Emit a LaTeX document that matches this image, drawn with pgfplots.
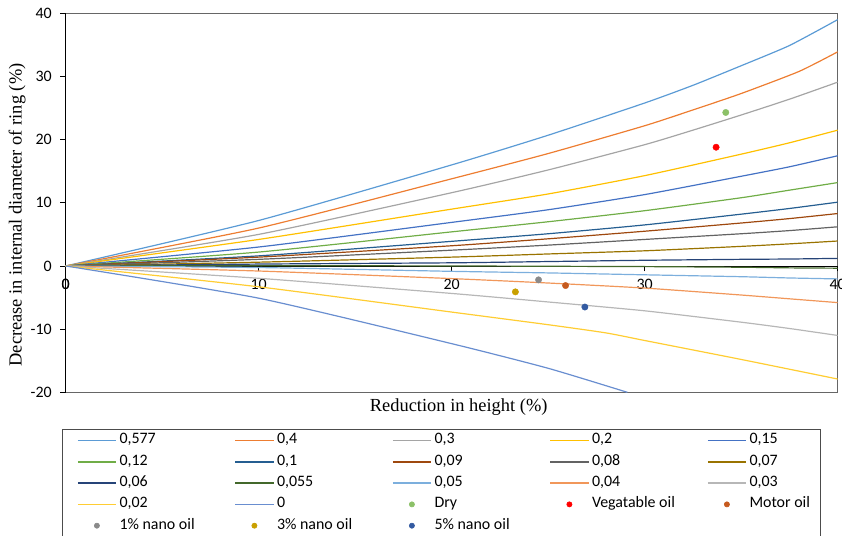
\documentclass[border=0pt]{standalone}
\usepackage{fontspec}
\setmainfont{Liberation Serif}
\newfontfamily\calib{Carlito}
\usepackage{pgfplots}
\pgfplotsset{compat=1.18}
\definecolor{cA}{HTML}{5B9BD5}
\definecolor{cB}{HTML}{ED7D31}
\definecolor{cC}{HTML}{A5A5A5}
\definecolor{cD}{HTML}{FFC000}
\definecolor{cE}{HTML}{4472C4}
\definecolor{cF}{HTML}{70AD47}
\definecolor{cG}{HTML}{255E91}
\definecolor{cH}{HTML}{9E480E}
\definecolor{cI}{HTML}{636363}
\definecolor{cJ}{HTML}{997300}
\definecolor{cK}{HTML}{264478}
\definecolor{cL}{HTML}{43682B}
\definecolor{cM}{HTML}{7CAFDD}
\definecolor{cN}{HTML}{F1975A}
\definecolor{cO}{HTML}{B7B7B7}
\definecolor{cP}{HTML}{FFCD33}
\definecolor{cQ}{HTML}{698ED0}
\definecolor{cDry}{HTML}{8CC168}
\definecolor{cVeg}{HTML}{FF0000}
\definecolor{cMot}{HTML}{C65A1E}
\definecolor{cN1}{HTML}{8A8A8A}
\definecolor{cN3}{HTML}{C9A000}
\definecolor{cN5}{HTML}{335AA1}
\newcommand\LA[1]{\makebox[115bp][l]{#1}}
\newcommand\LB[1]{\makebox[56bp][l]{#1}}
\pgfplotsset{
  curve/.style={line width=1.2bp, smooth, tension=0.35, no markers},
  dots/.style={only marks, mark=*, mark size=3.2bp, color=#1, mark options={fill=#1, draw=#1},
    legend image code/.code={\path[draw=none, fill=none] (0bp,0bp) -- (38.3bp,0bp); \draw[##1, draw=none, mark size=2.6bp] plot coordinates {(19.15bp,0bp)};}},
}
\begin{document}
\begin{tikzpicture}
\path[use as bounding box] (0,0) rectangle (842bp,536bp);
\begin{axis}[
  at={(65.7bp,143.7bp)}, anchor=south west,
  scale only axis, width=772bp, height=379bp,
  xmin=0, xmax=40, ymin=-20, ymax=40,
  axis x line=middle, axis y line=left,
  hide obscured x ticks=false,
  axis line style={-, black, line width=0.8bp},
  axis background/.style={draw=black!60, line width=0.8bp},
  xtick={0,10,20,30,40}, ytick={-20,-10,0,10,20,30,40},
  extra x ticks={0}, extra x tick style={tick style={draw=none}},
  tick align=outside, major tick length=5.5bp,
  tick style={black, line width=0.6bp},
  /pgf/number format/assume math mode=true,
  ticklabel style={font=\calib\fontsize{16}{18}\selectfont},
  xticklabel style={yshift=-4.5bp},
  yticklabel style={xshift=-5bp},
  label style={font=\fontsize{18.5}{21}\selectfont},
  xlabel={Reduction in height (\%)},
  ylabel={Decrease in internal diameter of ring (\%)},
  xlabel style={at={(axis description cs:0.5,0)}, anchor=north, yshift=-2.5bp, xshift=7bp},
  ylabel style={at={(axis description cs:-0.063,0.468)}, anchor=center},
  legend columns=5,
  legend style={at={(axis description cs:-0.0044,-0.096)}, anchor=north west,
    draw=black!70, line width=0.6bp,
    font=\calib\fontsize{16}{18}\selectfont,
    inner xsep=14.4bp, inner ysep=4bp, row sep=6.3bp,
    nodes={inner sep=0pt, text height=11bp, text depth=4bp},
    /tikz/every odd column/.append style={column sep=2.7bp}},
  legend image code/.code={\draw[#1, line width=1.5bp] (0bp,0bp) -- (38.3bp,0bp);},
]
\addplot[curve, color=cA] coordinates {(0,0) (10,7.2) (20,16.0) (25,20.7) (30,25.8) (32.5,28.6) (35,31.7) (37.5,34.9) (40,39.0)};
\addlegendentry{\LA{0,577}}
\addplot[curve, color=cB] coordinates {(0,0) (10,6.0) (20,13.8) (25,17.8) (30,22.2) (32.5,24.7) (35,27.3) (38,30.8) (40,33.9)};
\addlegendentry{\LA{0,4}}
\addplot[curve, color=cC] coordinates {(0,0) (10,5.0) (20,11.6) (25,15.2) (30,19.2) (32.5,21.5) (35,23.9) (37.5,26.4) (40,29.1)};
\addlegendentry{\LA{0,3}}
\addplot[curve, color=cD] coordinates {(0,0) (10,4.2) (20,9.0) (25,11.4) (30,14.3) (35,17.7) (37.5,19.5) (40,21.5)};
\addlegendentry{\LA{0,2}}
\addplot[curve, color=cE] coordinates {(0,0) (10,3.0) (20,6.9) (25,8.9) (30,11.3) (35,14.2) (37.5,15.7) (40,17.45)};
\addlegendentry{\LB{0,15}}
\addplot[curve, color=cF] coordinates {(0,0) (10,2.2) (20,5.4) (25,7.0) (30,8.75) (35,10.8) (37.5,12.0) (40,13.2)};
\addlegendentry{\LA{0,12}}
\addplot[curve, color=cG] coordinates {(0,0) (10,1.6) (20,3.9) (25,5.1) (30,6.5) (35,8.2) (37.5,9.1) (40,10.1)};
\addlegendentry{\LA{0,1}}
\addplot[curve, color=cH] coordinates {(0,0) (10,1.4) (20,3.2) (25,4.3) (30,5.5) (35,6.8) (37.5,7.5) (40,8.3)};
\addlegendentry{\LA{0,09}}
\addplot[curve, color=cI] coordinates {(0,0) (10,1.05) (20,2.5) (25,3.3) (30,4.2) (35,5.1) (37.5,5.6) (40,6.2)};
\addlegendentry{\LA{0,08}}
\addplot[curve, color=cJ] coordinates {(0,0) (10,0.6) (20,1.4) (25,1.9) (30,2.4) (35,3.1) (37.5,3.5) (40,3.95)};
\addlegendentry{\LB{0,07}}
\addplot[curve, color=cK] coordinates {(0,0) (10,0.3) (20,0.5) (25,0.7) (30,0.9) (35,1.05) (37.5,1.1) (40,1.2)};
\addlegendentry{\LA{0,06}}
\addplot[curve, color=cL] coordinates {(0,0) (10,0.05) (20,0) (25,-0.05) (30,-0.1) (35,-0.2) (37.5,-0.3) (40,-0.35)};
\addlegendentry{\LA{0,055}}
\addplot[curve, color=cM] coordinates {(0,0) (10,-0.25) (20,-0.85) (25,-1.1) (30,-1.4) (35,-1.7) (37.5,-1.9) (40,-2.05)};
\addlegendentry{\LA{0,05}}
\addplot[curve, color=cN] coordinates {(0,0) (10,-0.8) (20,-2.0) (25,-2.7) (30,-3.5) (35,-4.6) (37.5,-5.2) (40,-5.8)};
\addlegendentry{\LA{0,04}}
\addplot[curve, color=cO] coordinates {(0,0) (10,-1.95) (20,-4.35) (25,-5.7) (30,-7.1) (35,-8.9) (37.5,-9.9) (40,-11.0)};
\addlegendentry{\LB{0,03}}
\addplot[curve, color=cP] coordinates {(0,0) (10,-3.3) (20,-7.3) (25,-9.3) (28,-10.6) (30,-11.8) (35,-14.8) (40,-17.9)};
\addlegendentry{\LA{0,02}}
\addplot[curve, color=cQ] coordinates {(0,0) (10,-5.1) (20,-12.3) (25,-16.2) (29.1,-20)};
\addlegendentry{\LA{0}}
\addplot[dots=cDry] coordinates {(34.2,24.3)};
\addlegendentry{\LA{Dry}}
\addplot[dots=cVeg] coordinates {(33.7,18.8)};
\addlegendentry{\LA{Vegatable oil}}
\addplot[dots=cMot] coordinates {(25.9,-3.1)};
\addlegendentry{\LB{Motor oil}}
\addplot[dots=cN1] coordinates {(24.5,-2.2)};
\addlegendentry{\LA{1\% nano oil}}
\addplot[dots=cN3] coordinates {(23.3,-4.1)};
\addlegendentry{\LA{3\% nano oil}}
\addplot[dots=cN5] coordinates {(26.9,-6.5)};
\addlegendentry{\LA{5\% nano oil}}
\end{axis}
\end{tikzpicture}
\end{document}
